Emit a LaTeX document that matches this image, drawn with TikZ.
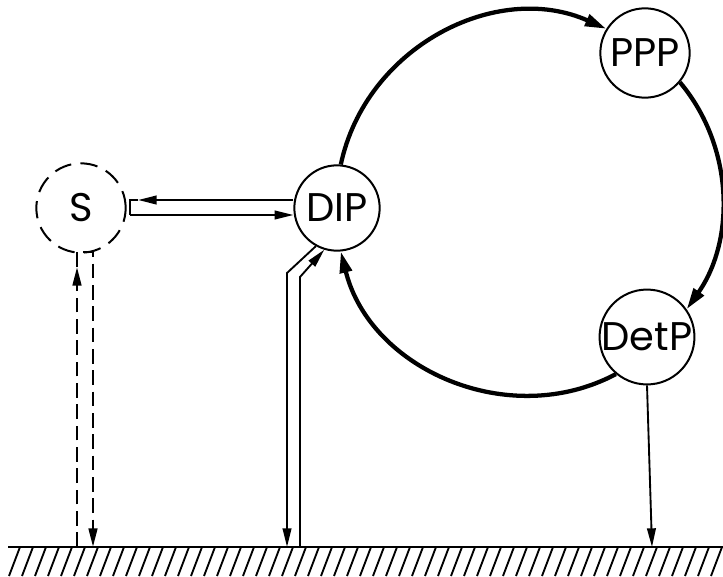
\documentclass[tikz,border=0pt]{standalone}
\usepackage{fontspec}
\setsansfont{Poppins}
\usetikzlibrary{arrows.meta}

\tikzset{
  proc/.style={circle,draw,line width=1.5pt,inner sep=0pt,minimum size=67pt,
    font=\sffamily\fontsize{30}{30}\selectfont},
  ring/.style={line width=3.2pt,-{Triangle[length=16pt,width=9pt]}},
  thin/.style={line width=1.4pt},
  tip/.style={-{Triangle[length=14pt,width=6.5pt]}},
  dashline/.style={line width=1.9pt,dash pattern=on 11pt off 5pt},
  hatch/.style={line width=1.4pt},
}

\begin{document}
\begin{tikzpicture}[x=0.75pt,y=0.75pt]
\useasboundingbox (0,0) rectangle (723,576);

% Processes
\node[proc,dash pattern=on 13pt off 7pt] (S) at (81,368) {S};
\node[proc,minimum size=64pt] (DIP) at (337,368) {DIP};
\node[proc] (PPP) at (645,523) {PPP};
\node[proc,minimum size=70pt] (DetP) at (647,239) {DetP};

% Ground
\coordinate (gl) at (8,29);
\coordinate (gr) at (723,29);
\draw[line width=2pt] (gl) -- (gr);
\foreach \x in {20,33,...,740}
  \draw[hatch] (\x,29) -- ++(-11,-29);
\coordinate (g1) at (77,29);
\coordinate (g2) at (93,29);
\coordinate (g3) at (287,29);
\coordinate (g4) at (300,29);
\coordinate (g5) at (652,29);

% Cycle
\draw[ring] (DIP.85) to[out=78,in=156,looseness=1.03] (PPP.148);
\draw[ring] (PPP.-40) to[out=-50,in=55,looseness=0.95] (DetP.35);
\draw[ring] (DetP.230) to[out=208,in=-76,looseness=1.03] (DIP.-85);

% S <-> DIP
\coordinate (tL) at (130,376);
\coordinate (bL) at (130,361);
\coordinate (tTip) at (138,376);
\draw[thin,tip] (tL -| DIP.west) -- (tTip);
\draw[thin] (tTip) -- (tL) -- (bL);
\draw[thin,tip] (bL) -- (bL -| DIP.west);

% S <-> ground
\coordinate (sL) at (77,324);
\coordinate (sR) at (93,324);
\coordinate (sTip) at (77,309);
\draw[dashline,tip] (g1) -- (sTip);
\draw[dashline,tip] (sTip) -- (sL) -- (sR) -- (g2);

% DIP <-> ground
\coordinate (k1) at (287,303);
\coordinate (k2) at (300,299);
\draw[thin,tip] (DIP.241) -- (k1) -- (g3);
\draw[thin,tip] (g4) -- (k2) -- (DIP.253);

% DetP -> ground
\draw[thin,tip] (DetP.south) -- (g5);

\end{tikzpicture}
\end{document}
